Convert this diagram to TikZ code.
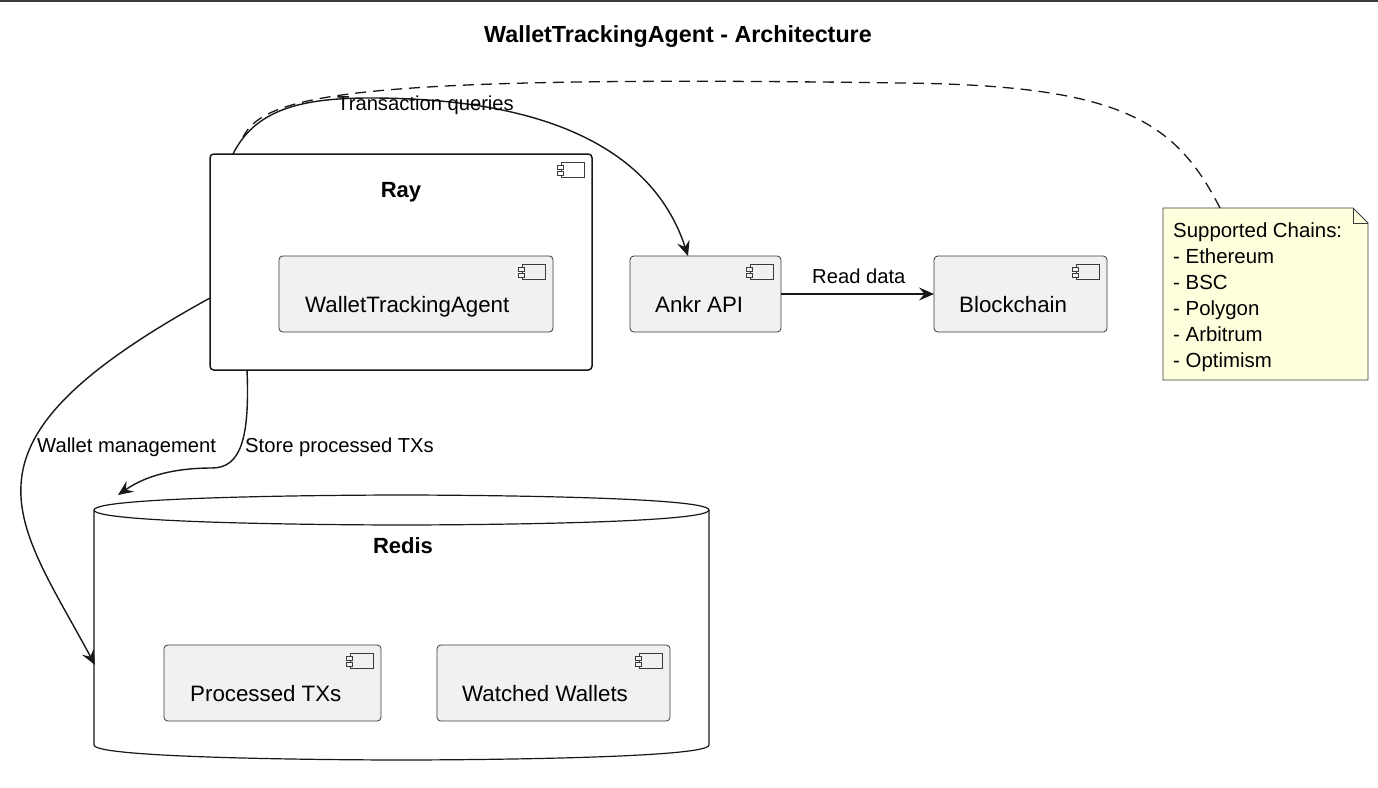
\documentclass[tikz,border=0pt]{standalone}
\usepackage{fontspec}
\setmainfont{Liberation Sans}
\usetikzlibrary{calc,arrows.meta}
\definecolor{ink}{HTML}{181818}
\definecolor{compfill}{HTML}{F1F1F1}
\definecolor{notefill}{HTML}{FEFFDD}
\newcommand\compicon[2][compfill]{%
  \draw[draw=ink!85, line width=0.8, fill=#1] ($(#2.north east)+(-31,8)$) rectangle ($(#2.north east)+(-8,23)$);
  \draw[draw=ink!85, line width=0.8, fill=#1] ($(#2.north east)+(-35,11)$) rectangle ($(#2.north east)+(-29,15)$);
  \draw[draw=ink!85, line width=0.8, fill=#1] ($(#2.north east)+(-35,17)$) rectangle ($(#2.north east)+(-29,21)$);}
\begin{document}
\begin{tikzpicture}[x=1pt,y=-1pt,
  raybox/.style={draw=ink, line width=1.5, fill=white, rounded corners=3.75, inner sep=0, outer sep=0},
  comp/.style={draw=ink!85, line width=0.8, fill=compfill, rounded corners=3.75, inner sep=0, outer sep=0, minimum height=76},
  ctext/.style={font=\fontsize{22.3}{26}\selectfont, inner sep=0, anchor=base west, text=black},
  btext/.style={font=\bfseries\fontsize{22}{26}\selectfont, inner sep=0, anchor=base, text=black},
  lbl/.style={font=\fontsize{20.2}{24}\selectfont, inner sep=0, anchor=base west, text=black},
  conn/.style={draw=ink, line width=1.4, -{Stealth[length=15pt,width=13pt,inset=5.5pt]}},
  notelink/.style={draw=ink, line width=1.3, dash pattern=on 11pt off 7pt},
  notestyle/.style={draw=ink!85, line width=0.8, fill=notefill},
  dbstyle/.style={draw=ink, line width=1.2, fill=white}]
\useasboundingbox (0,0) rectangle (1378,787);
\fill[white] (0,0) rectangle (1378,787);
\draw[line width=2, draw=ink!85] (0,1) -- (1378,1);

% title
\node[font=\bfseries\fontsize{23.3}{28}\selectfont, inner sep=0, anchor=base] (title) at (678,42) {WalletTrackingAgent - Architecture};

% Ray
\node[raybox, minimum width=382, minimum height=216] (ray) at (401,262) {};
\compicon[white]{ray}
\node[btext] (ray-t) at (401,197) {Ray};
\node[comp, minimum width=274] (wta) at (416,294) {};
\compicon{wta}
\node[ctext] (wta-t) at (305,312) {WalletTrackingAgent};

% Ankr and Blockchain
\node[comp, minimum width=151] (ankr) at (705.5,294) {};
\compicon{ankr}
\node[ctext] (ankr-t) at (655,312) {Ankr API};
\node[comp, minimum width=173] (chain) at (1020.5,294) {};
\compicon{chain}
\node[ctext] (chain-t) at (959,312) {Blockchain};

% Redis
\node[inner sep=0, outer sep=0, minimum width=615, minimum height=265] (redis) at (401.5,627.5) {};
\draw[dbstyle] (94,510) .. controls (94,495) and (401.5,495) .. (401.5,495)
  .. controls (401.5,495) and (709,495) .. (709,510) -- (709,745)
  .. controls (709,760) and (401.5,760) .. (401.5,760)
  .. controls (401.5,760) and (94,760) .. (94,745) -- cycle;
\draw[draw=ink, line width=1.2] (94,510) .. controls (94,525) and (401.5,525) .. (401.5,525)
  .. controls (401.5,525) and (709,525) .. (709,510);
\node[btext] (redis-t) at (403,553) {Redis};
\node[comp, minimum width=217] (ptx) at (272.5,683) {};
\compicon{ptx}
\node[ctext] (ptx-t) at (190,701) {Processed TXs};
\node[comp, minimum width=233] (ww) at (553.5,683) {};
\compicon{ww}
\node[ctext] (ww-t) at (462,701) {Watched Wallets};

% Note
\node[inner sep=0, outer sep=0, minimum width=205, minimum height=172] (note) at (1265.5,294) {};
\draw[notestyle] (note.north west) -- ($(note.north east)+(-15,0)$) -- ($(note.north east)+(0,15)$) -- (note.south east) -- (note.south west) -- cycle;
\draw[draw=ink!85, line width=0.8] ($(note.north east)+(-15,0)$) -- ($(note.north east)+(-15,15)$) -- ($(note.north east)+(0,15)$);
\node[font=\fontsize{20.4}{26}\selectfont, align=left, anchor=north west, inner sep=0, text=black] (note-t) at (1173,222.5)
  {Supported Chains:\\- Ethereum\\- BSC\\- Polygon\\- Arbitrum\\- Optimism};

% connectors
\draw[notelink] ($(note.north west)+(57,0)$) .. controls (1175,120) and (1120,85) .. (900,83)
  .. controls (350,75) and (265,95) .. ($(ray.north west)+(33,-17)$);
\draw[conn] ($(ray.north west)+(23,0)$) .. controls (255,110) and (300,98) .. (370,98)
  .. controls (580,98) and (660,170) .. ($(ankr.north west)+(58,0)$);
\node[lbl] (lq) at (337,110) {Transaction queries};
\draw[conn] (ankr.east) -- (chain.west);
\node[lbl] (lr) at (812,283) {Read data};
\draw[conn] ($(ray.west)+(0,36)$) .. controls (-57,444.5) and (14,514.5) .. ($(redis.north west)+(1,170)$);
\node[lbl] (lw) at (37,452) {Wallet management};
\draw[conn] ($(ray.south west)+(37,0)$) .. controls (250,440) and (240,468) .. (212,468)
  .. controls (185,468) and (151,472) .. ($(redis.north west)+(24,0)$);
\node[lbl] (ls) at (245,452) {Store processed TXs};
\end{tikzpicture}
\end{document}
